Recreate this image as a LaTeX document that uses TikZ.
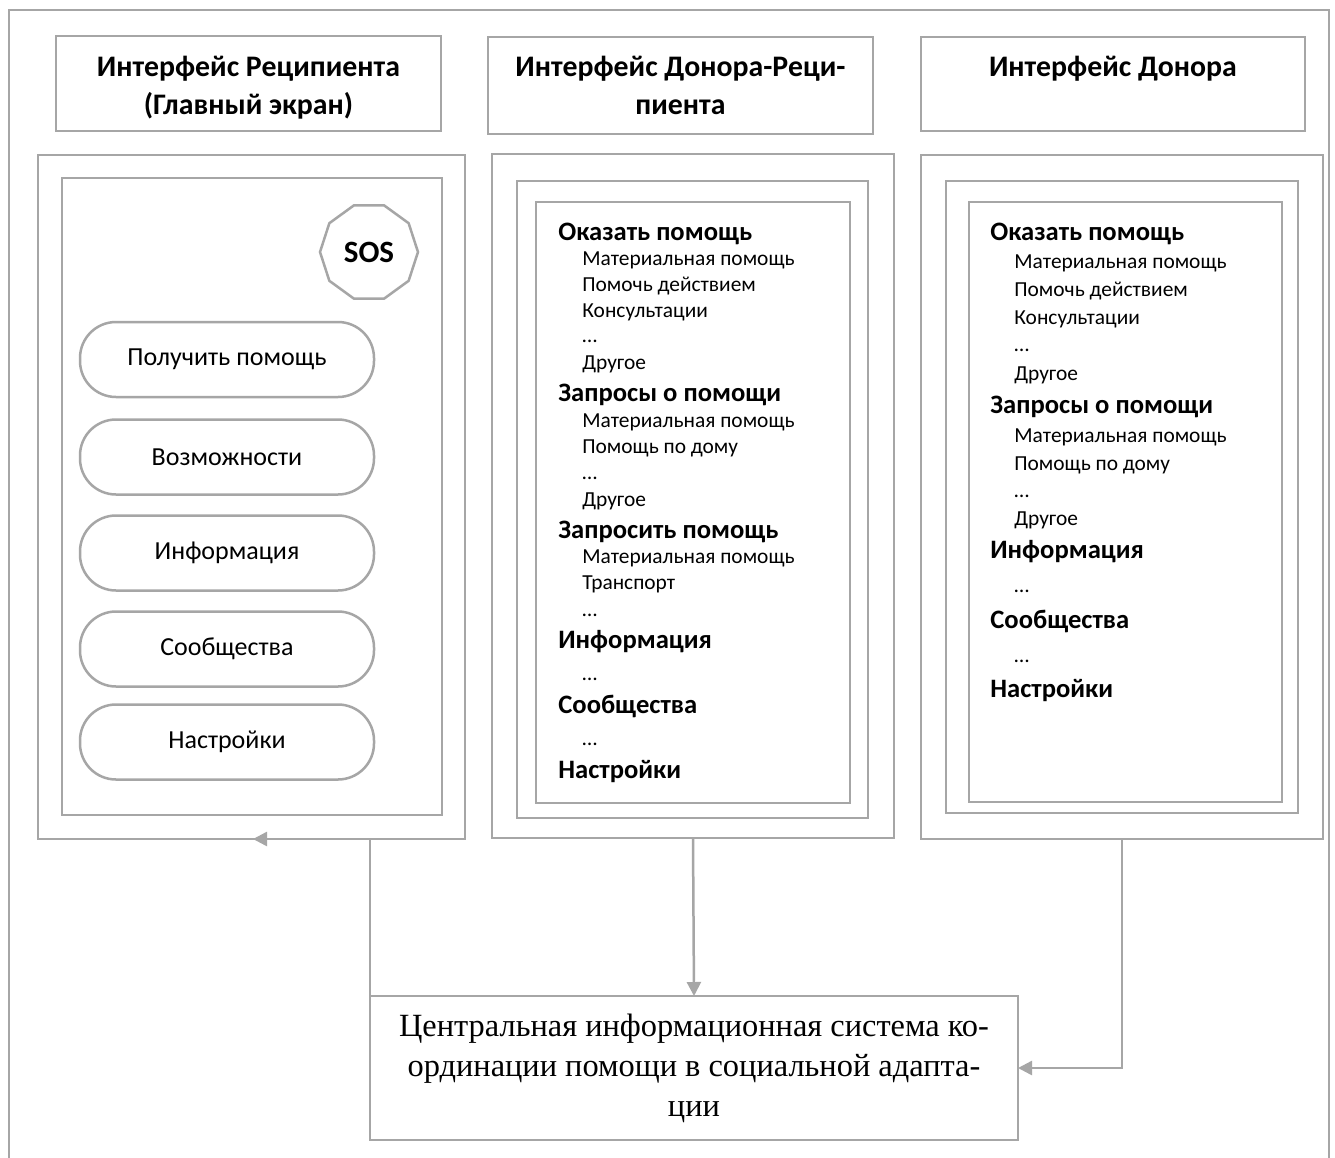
\documentclass[tikz,border=0pt]{standalone}
\usepackage{fontspec}
\setmainfont{Liberation Serif}
\newfontfamily\calib{Carlito}
\usetikzlibrary{arrows.meta,shapes.geometric,fit}
\definecolor{frame}{HTML}{A6A6A6}
\begin{document}
\begin{tikzpicture}[x=0.5pt,y=-0.5pt,
 box/.style={draw=frame,line width=1.25pt,inner sep=0pt,outer sep=0pt},
 title/.style={font=\calib\bfseries\fontsize{14.9}{19}\selectfont,anchor=base,inner sep=0pt},
 head/.style={font=\calib\bfseries\fontsize{13.3}{15}\selectfont,anchor=base west,inner sep=0pt},
 item/.style={font=\calib\fontsize{10.7}{12}\selectfont,anchor=base west,inner sep=0pt},
 pill/.style={draw=frame,line width=1.25pt,rounded corners=18pt,minimum width=147pt,minimum height=37.5pt,inner sep=0pt,font=\calib\fontsize{13}{15}\selectfont},
 conn/.style={draw=frame,line width=1.25pt,-{Triangle[length=7pt,width=7pt]}}]
\useasboundingbox (0,0) rectangle (1335,1158);
\fill[white] (0,0) rectangle (1335,1158);
% outer frame (open at bottom)
\draw[frame,line width=1.25pt] (9,1158) |- (1329,10) -- (1329,1158);

% titles
\node[box,fit={(56,36) (441,131)}] (t1) {};
\node[title] (t1a) at (248.5,76) {Интерфейс Реципиента};
\node[title] (t1b) at (248.5,114) {(Главный экран)};
\node[box,fit={(488,37) (873,134)}] (t2) {};
\node[title] (t2a) at (680.5,76) {Интерфейс Донора-Реци-};
\node[title] (t2b) at (680.5,114) {пиента};
\node[box,fit={(921,37) (1305,131)}] (t3) {};
\node[title] (t3a) at (1113,76) {Интерфейс Донора};

% left column
\node[box,fit={(38,155) (465,839)}] (lo) {};
\node[box,fit={(62,178) (442,815)}] (li) {};
\node[draw=frame,line width=1.25pt,regular polygon,regular polygon sides=10,minimum size=49pt,inner sep=0pt,font=\calib\bfseries\fontsize{15.5}{17}\selectfont] (sos) at (369,252) {SOS};
\node[pill] (p1) at (227,359.5) {Получить помощь};
\node[pill] (p2) at (227,457) {Возможности};
\node[pill] (p3) at (227,553) {Информация};
\node[pill] (p4) at (227,649) {Сообщества};
\node[pill] (p5) at (227,742) {Настройки};

% middle column
\node[box,fit={(492,154) (894,838)}] (mo) {};
\node[box,fit={(517,181) (868,818)}] (mm) {};
\node[box,fit={(536,202) (850,803)}] (mi) {};
\node[head] (m1) at (558,240) {Оказать помощь};
\node[item] (m2) at (582,265) {Материальная помощь};
\node[item] (m3) at (582,291) {Помочь действием};
\node[item] (m4) at (582,317) {Консультации};
\node[item] (m5) at (582,342) {…};
\node[item] (m6) at (582,369) {Другое};
\node[head] (m7) at (558,401) {Запросы о помощи};
\node[item] (m8) at (582,427) {Материальная помощь};
\node[item] (m9) at (582,453) {Помощь по дому};
\node[item] (m10) at (582,479) {…};
\node[item] (m11) at (582,506) {Другое};
\node[head] (m12) at (558,538) {Запросить помощь};
\node[item] (m13) at (582,563) {Материальная помощь};
\node[item] (m14) at (582,589) {Транспорт};
\node[item] (m15) at (582,616) {…};
\node[head] (m16) at (558,648) {Информация};
\node[item] (m17) at (582,680) {…};
\node[head] (m18) at (558,713) {Сообщества};
\node[item] (m19) at (582,745) {…};
\node[head] (m20) at (558,778) {Настройки};

% right column
\node[box,fit={(921,155) (1323,839)}] (ro) {};
\node[box,fit={(946,181) (1298,813)}] (rm) {};
\node[box,fit={(969,202) (1282,802)}] (ri) {};
\node[head] (r1) at (990,240) {Оказать помощь};
\node[item] (r2) at (1014,268) {Материальная помощь};
\node[item] (r3) at (1014,296) {Помочь действием};
\node[item] (r4) at (1014,324) {Консультации};
\node[item] (r5) at (1014,351) {…};
\node[item] (r6) at (1014,380) {Другое};
\node[head] (r7) at (990,413) {Запросы о помощи};
\node[item] (r8) at (1014,442) {Материальная помощь};
\node[item] (r9) at (1014,470) {Помощь по дому};
\node[item] (r10) at (1014,497) {…};
\node[item] (r11) at (1014,525) {Другое};
\node[head] (r12) at (990,558) {Информация};
\node[item] (r13) at (1014,592) {…};
\node[head] (r14) at (990,628) {Сообщества};
\node[item] (r15) at (1014,662) {…};
\node[head] (r16) at (990,697) {Настройки};

% central system
\node[box,fit={(370,996) (1018,1140)}] (cs) {};
\node[align=center,font=\fontsize{16.2}{20}\selectfont] (cst) at (694,1068) {Центральная информационная система ко-\\ординации помощи в социальной адапта-\\ции};

% connectors
\coordinate (lend) at (253,839);
\draw[conn] (cs.north west) |- (lend);
\draw[conn] (mo.south) -- (cs.north);
\draw[conn] (ro.south) |- (cs.east);
\end{tikzpicture}
\end{document}
